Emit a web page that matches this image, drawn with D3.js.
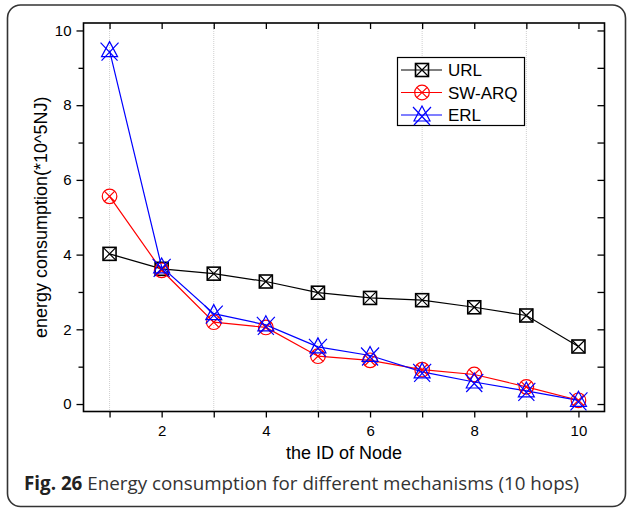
<!DOCTYPE html>
<html><head><meta charset="utf-8">
<script src="https://cdn.jsdelivr.net/npm/d3@7"></script>
<style>body{margin:0;background:#fff}svg{display:block}</style>
</head><body>
<script>
const nodes = [1,2,3,4,5,6,7,8,9,10];
const urlVals = [4.02,3.62,3.49,3.28,2.98,2.84,2.78,2.59,2.37,1.54];
const swarqVals = [5.56,3.58,2.19,2.05,1.28,1.17,0.92,0.79,0.46,0.10];
const erlVals = [9.46,3.67,2.42,2.12,1.53,1.30,0.86,0.59,0.35,0.10];
const seriesNames = ["URL","SW-ARQ","ERL"];
const seriesColors = ["#000000","#ff0000","#0000ff"];
const xTicks = [2,4,6,8,10];
const yTicks = [0,2,4,6,8,10];
const xLabel = "the ID of Node";
const yLabel = "energy consumption(*10^5NJ)";
const captionBold = "Fig. 26";
const captionText = " Energy consumption for different mechanisms (10 hops)";

const FONT = "'Liberation Sans', Arimo, Arial, sans-serif";
const W=627,H=508;
const svg=d3.select("body").append("svg").attr("width",W).attr("height",H);
svg.append("rect").attr("x",7.5).attr("y",5).attr("width",618).attr("height",501.5)
  .attr("rx",13).attr("fill","none").attr("stroke","#333").attr("stroke-width",1.6);

const L=83.5,R=604.5,T=23,B=411.5;
const x=d3.scaleLinear().domain([0.5,10.5]).range([L,R]);
const y=d3.scaleLinear().domain([-0.2,10.2]).range([B,T]);

// grid at odd positions
const g=svg.append("g");
[1,3,5,7,9].forEach(v=>{
  g.append("line").attr("x1",x(v)).attr("x2",x(v)).attr("y1",T).attr("y2",B)
   .attr("stroke","#cfcfcf").attr("stroke-width",1).attr("stroke-dasharray","1,1");
});

// axes
const xAxis=svg.append("g").attr("transform",`translate(0,${B})`)
  .call(d3.axisBottom(x).tickValues(xTicks).tickSize(6).tickPadding(8).tickSizeOuter(0));
const xMinor=svg.append("g").attr("transform",`translate(0,${B})`)
  .call(d3.axisBottom(x).tickValues([1,3,5,7,9]).tickSize(6).tickFormat("").tickSizeOuter(0));
const xTop=svg.append("g").attr("transform",`translate(0,${T})`)
  .call(d3.axisTop(x).tickValues(nodes).tickSize(-6).tickFormat("").tickSizeOuter(0));
const yAxis=svg.append("g").attr("transform",`translate(${L},0)`)
  .call(d3.axisLeft(y).tickValues(yTicks).tickSize(7).tickPadding(5).tickSizeOuter(0));
const yMinor=svg.append("g").attr("transform",`translate(${L},0)`)
  .call(d3.axisLeft(y).tickValues([1,3,5,7,9]).tickSize(5).tickFormat("").tickSizeOuter(0));
const yRight=svg.append("g").attr("transform",`translate(${R},0)`)
  .call(d3.axisRight(y).tickValues(d3.range(0,11)).tickSize(-7).tickFormat("").tickSizeOuter(0));
[xAxis,xMinor,xTop,yAxis,yMinor,yRight].forEach(a=>{
  a.attr("font-family",FONT);
  a.select(".domain").remove();
  a.selectAll("line").attr("stroke","#000").attr("stroke-width",1.3);
  a.selectAll("text").attr("font-family",FONT).attr("font-size",15).attr("fill","#000");
});
svg.append("rect").attr("x",L).attr("y",T).attr("width",R-L).attr("height",B-T)
  .attr("fill","none").attr("stroke","#000").attr("stroke-width",1.6);

// labels
svg.append("text").attr("x",(L+R)/2).attr("y",459).attr("text-anchor","middle")
  .attr("font-family",FONT).attr("font-size",18).text(xLabel);
svg.append("text").attr("transform",`translate(47,${(T+B)/2}) rotate(-90)`).attr("text-anchor","middle")
  .attr("font-family",FONT).attr("font-size",18).text(yLabel);

// markers
function drawMarker(sel,type,cx,cy,color){
  const m=sel.append("g").attr("transform",`translate(${cx},${cy})`)
    .attr("fill","none").attr("stroke",color).attr("stroke-width",1.2);
  if(type===0){
    m.append("rect").attr("x",-6.5).attr("y",-6.5).attr("width",13).attr("height",13).attr("stroke-width",1.6);
    m.append("path").attr("d","M-6.5,-6.5L6.5,6.5M6.5,-6.5L-6.5,6.5");
  } else if(type===1){
    m.append("circle").attr("r",7.3);
    m.append("path").attr("d","M-5.2,-5.2L5.2,5.2M5.2,-5.2L-5.2,5.2");
  } else {
    m.append("path").attr("d","M0,-9L-8,6L8,6Z");
    m.append("path").attr("d","M-9,-8L8,10M9,-8L-8,10");
  }
}
const allSeries=[urlVals,swarqVals,erlVals];
const line=d3.line().x((d,i)=>x(nodes[i])).y(d=>y(d));
allSeries.forEach((vals,si)=>{
  svg.append("path").datum(vals).attr("d",line).attr("fill","none")
    .attr("stroke",seriesColors[si]).attr("stroke-width",1.2);
});
allSeries.forEach((vals,si)=>{
  const gs=svg.append("g");
  vals.forEach((v,i)=>drawMarker(gs,si,x(nodes[i]),y(v),seriesColors[si]));
});

// legend
const lg=svg.append("g");
lg.append("rect").attr("x",397.5).attr("y",57.5).attr("width",127).attr("height",68)
  .attr("fill","#fff").attr("stroke","#000").attr("stroke-width",1.2);
seriesNames.forEach((n,i)=>{
  const yy=70+i*22.5;
  lg.append("line").attr("x1",401).attr("x2",442).attr("y1",yy).attr("y2",yy)
    .attr("stroke",seriesColors[i]).attr("stroke-width",1.2);
  drawMarker(lg,i,422,yy,seriesColors[i]);
  lg.append("text").attr("x",448).attr("y",yy+6).attr("font-family",FONT)
    .attr("font-size",17).text(n);
});

// caption
const cap=svg.append("text").attr("x",24).attr("y",490).attr("font-family","'Open Sans', 'Noto Sans', sans-serif")
  .attr("font-size",18.8).attr("fill","#333");
cap.append("tspan").attr("font-weight","bold").attr("fill","#222").text(captionBold);
cap.append("tspan").text(captionText);
</script>
</body></html>
